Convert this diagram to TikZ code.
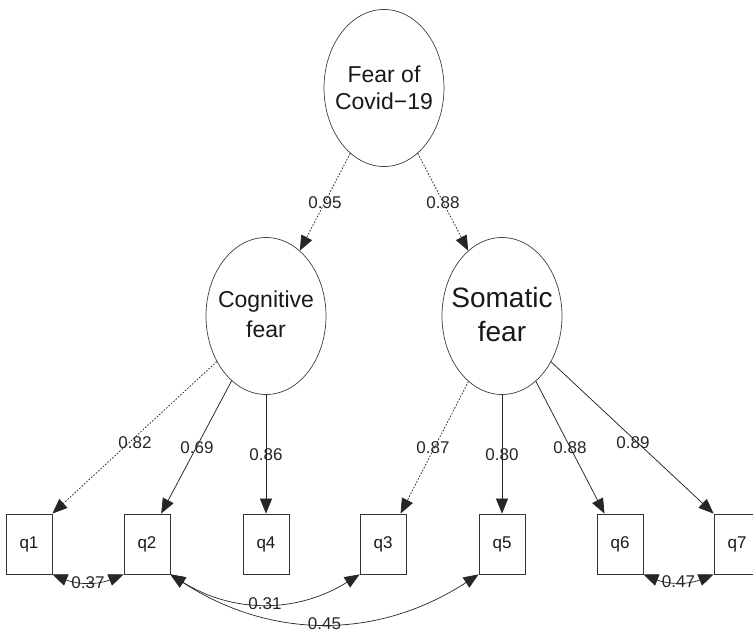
\documentclass[tikz,border=0pt]{standalone}
\usepackage{fontspec}
\setmainfont{Liberation Sans}
\usetikzlibrary{shapes.geometric,arrows.meta}
\begin{document}
\begin{tikzpicture}[x=1pt,y=-1pt,
  latent/.style={ellipse,draw=black!75,line width=0.7pt,minimum width=120pt,minimum height=157pt,inner sep=0pt},
  ltext/.style={align=center,text=black!90,inner sep=0pt},
  obs/.style={rectangle,draw=black!80,line width=0.8pt,minimum width=46pt,minimum height=60pt,inner sep=0pt,font=\fontsize{17}{20}\selectfont,text=black!90},
  tip/.tip={Triangle[length=15pt,width=12pt]},
  path/.style={draw=black!85,line width=0.75pt,-tip},
  dpath/.style={path,dash pattern=on 1.6pt off 1.6pt},
  cov/.style={draw=black!85,line width=0.7pt,tip-tip},
  lab/.style={font=\fontsize{17}{20}\selectfont,text=black!85,inner sep=0pt}]
\clip (0,0) rectangle (753,634);
\useasboundingbox (0,0) rectangle (753,634);
\fill[white] (0,0) rectangle (753,634);

\node[latent] (fear) at (384,88) {};
\node[latent] (cog) at (266,316) {};
\node[latent] (som) at (502,316) {};
\node[ltext,font=\fontsize{23}{27}\selectfont] (feart) at (384,88) {Fear of\\Covid−19};
\node[ltext,font=\fontsize{23}{30}\selectfont] (cogt) at (266,314) {Cognitive\\fear};
\node[ltext,font=\fontsize{28}{34}\selectfont] (somt) at (502,314) {Somatic\\fear};

\node[obs] (q1) at (29,544) {q1};
\node[obs] (q2) at (147,544) {q2};
\node[obs] (q4) at (266,544) {q4};
\node[obs] (q3) at (383,544) {q3};
\node[obs] (q5) at (502,544) {q5};
\node[obs] (q6) at (620,544) {q6};
\node[obs] (q7) at (737,544) {q7};

\draw[dpath] (fear) -- (cog);
\draw[dpath] (fear) -- (som);
\draw[dpath] (cog) -- (q1.north east);
\draw[path] (cog) -- (q2.65);
\draw[path] (cog.south) -- (q4.north);
\draw[dpath] (som) -- (q3.60);
\draw[path] (som.south) -- (q5.north);
\draw[path] (som) -- (q6.117);
\draw[path] (som) -- (q7.north west);

\node[lab] (l1) at (325,203) {0.95};
\node[lab] (l2) at (443,203) {0.88};
\node[lab] (l3) at (135,443) {0.82};
\node[lab] (l4) at (197,448) {0.69};
\node[lab] (l5) at (266,455) {0.86};
\node[lab] (l6) at (433,448) {0.87};
\node[lab] (l7) at (502,455) {0.80};
\node[lab] (l8) at (570,448) {0.88};
\node[lab] (l9) at (633,443) {0.89};

\draw[cov] (q1.south east) to[bend right=22] node[lab,midway] (c1) {0.37} (q2.south west);
\draw[cov] (q2.south east) to[bend right=32] node[lab,midway] (c2) {0.31} (q3.south west);
\draw[cov] (q2.south east) to[bend right=33] node[lab,midway] (c3) {0.45} (q5.south west);
\draw[cov] (q6.south east) to[bend right=22] node[lab,midway] (c4) {0.47} (q7.south west);
\end{tikzpicture}
\end{document}
